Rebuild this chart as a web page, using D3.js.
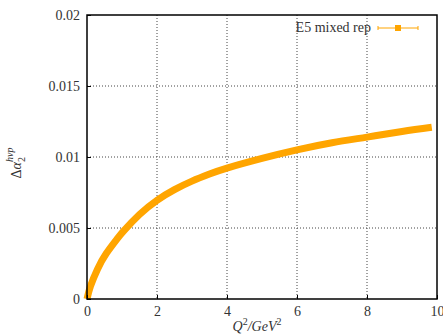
<!DOCTYPE html>
<html>
<head>
<meta charset="utf-8">
<script src="https://cdn.jsdelivr.net/npm/d3@7"></script>
<style>
  body { margin: 0; background: #fff; }
</style>
</head>
<body>
<div id="chart"></div>
<script>
// values
let q2 = [0, 0.1, 0.3, 0.55, 0.85, 1.05, 1.5, 2, 2.5, 3, 3.5, 4, 5, 6, 7, 8, 9, 9.85];
let dAlpha = [0, 0.0009, 0.0021, 0.0032, 0.0042, 0.0048, 0.00595, 0.00695, 0.0077, 0.0083, 0.0088, 0.00922, 0.0099, 0.0105, 0.0110, 0.0114, 0.0118, 0.0121];
let xTicks = [0, 2, 4, 6, 8, 10];
let yTicks = [0, 0.005, 0.01, 0.015, 0.02];
let yTickLabels = ["0", "0.005", "0.01", "0.015", "0.02"];
let seriesName = "E5 mixed rep";

let data = q2.map(function (d, i) { return { x: d, y: dAlpha[i] }; });

let font = "'Liberation Serif', 'DejaVu Serif', serif";

let margin = { top: 15, right: 6, bottom: 36, left: 87 },
    width = 443 - margin.left - margin.right,
    height = 335 - margin.top - margin.bottom;

let svg = d3.select("#chart")
    .append("svg")
    .attr("width", 443)
    .attr("height", 335)
    .append("g")
    .attr("transform", "translate(" + margin.left + "," + margin.top + ")");

let x = d3.scaleLinear().domain([0, 10]).range([0, width]);
let y = d3.scaleLinear().domain([0, 0.02]).range([height, 0]);

// grid
svg.append("g")
    .selectAll("line")
    .data(xTicks.slice(1, -1))
    .enter()
    .append("line")
    .attr("x1", function (d) { return x(d); })
    .attr("x2", function (d) { return x(d); })
    .attr("y1", 0)
    .attr("y2", height)
    .attr("stroke", "#444")
    .attr("stroke-dasharray", "1,2");

svg.append("g")
    .selectAll("line")
    .data(yTicks.slice(1, -1))
    .enter()
    .append("line")
    .attr("x1", 0)
    .attr("x2", width)
    .attr("y1", function (d) { return y(d); })
    .attr("y2", function (d) { return y(d); })
    .attr("stroke", "#444")
    .attr("stroke-dasharray", "1,2");

// data band
svg.append("path")
    .datum(data)
    .attr("fill", "none")
    .attr("stroke", "#ffa500")
    .attr("stroke-width", 7)
    .attr("stroke-linejoin", "round")
    .attr("d", d3.line()
        .curve(d3.curveNatural)
        .x(function (d) { return x(d.x); })
        .y(function (d) { return y(d.y); }));

// axes
svg.append("g")
    .attr("transform", "translate(0," + height + ")")
    .call(d3.axisBottom(x).tickValues(xTicks).tickSize(-4).tickPadding(7))
    .call(function (g) { g.select(".domain").remove(); })
    .selectAll("text")
    .attr("font-family", font)
    .attr("font-size", 14)
    .attr("fill", "#333");

svg.append("g")
    .call(d3.axisLeft(y).tickValues(yTicks).tickSize(-4).tickPadding(7)
        .tickFormat(function (d, i) { return yTickLabels[i]; }))
    .call(function (g) { g.select(".domain").remove(); })
    .selectAll("text")
    .attr("font-family", font)
    .attr("font-size", 14)
    .attr("fill", "#333");

svg.selectAll(".tick line").attr("stroke", "#000");

// frame
svg.append("rect")
    .attr("width", width)
    .attr("height", height)
    .attr("fill", "none")
    .attr("stroke", "#000")
    .attr("stroke-width", 1.5);

// legend
let lg = svg.append("g").attr("transform", "translate(" + (width - 59) + ",13)");
lg.append("text")
    .attr("x", -7)
    .attr("y", 4)
    .attr("text-anchor", "end")
    .attr("font-family", font)
    .attr("font-size", 14)
    .attr("fill", "#333")
    .text(seriesName);
lg.append("line").attr("x1", 0).attr("x2", 40).attr("stroke", "#ffa500").attr("stroke-width", 1);
lg.append("line").attr("x1", 0).attr("x2", 0).attr("y1", -2).attr("y2", 2).attr("stroke", "#ffa500");
lg.append("line").attr("x1", 40).attr("x2", 40).attr("y1", -2).attr("y2", 2).attr("stroke", "#ffa500");
lg.append("rect").attr("x", 17).attr("y", -3).attr("width", 6).attr("height", 6).attr("fill", "#ffa500");

// axis labels
let xl = svg.append("text")
    .attr("x", width / 2 - 5)
    .attr("y", height + 32)
    .attr("text-anchor", "middle")
    .attr("font-family", font)
    .attr("font-size", 14)
    .attr("fill", "#333")
    .attr("font-style", "italic");
xl.append("tspan").text("Q");
xl.append("tspan").attr("dy", -6).attr("font-size", 10).attr("font-style", "normal").text("2");
xl.append("tspan").attr("dy", 6).text("/GeV");
xl.append("tspan").attr("dy", -6).attr("font-size", 10).attr("font-style", "normal").text("2");

let yl = svg.append("text")
    .attr("transform", "translate(" + (-66) + "," + (height / 2 + 6) + ")rotate(-90)")
    .attr("text-anchor", "middle")
    .attr("font-family", font)
    .attr("font-size", 14)
    .attr("fill", "#333");
yl.append("tspan").text("\u0394");
yl.append("tspan").attr("font-style", "italic").text("\u03b1");
yl.append("tspan").attr("dy", 4).attr("font-size", 10).text("2");
yl.append("tspan").attr("dx", -5).attr("dy", -12).attr("font-size", 10).attr("font-style", "italic").text("hvp");
</script>
</body>
</html>
